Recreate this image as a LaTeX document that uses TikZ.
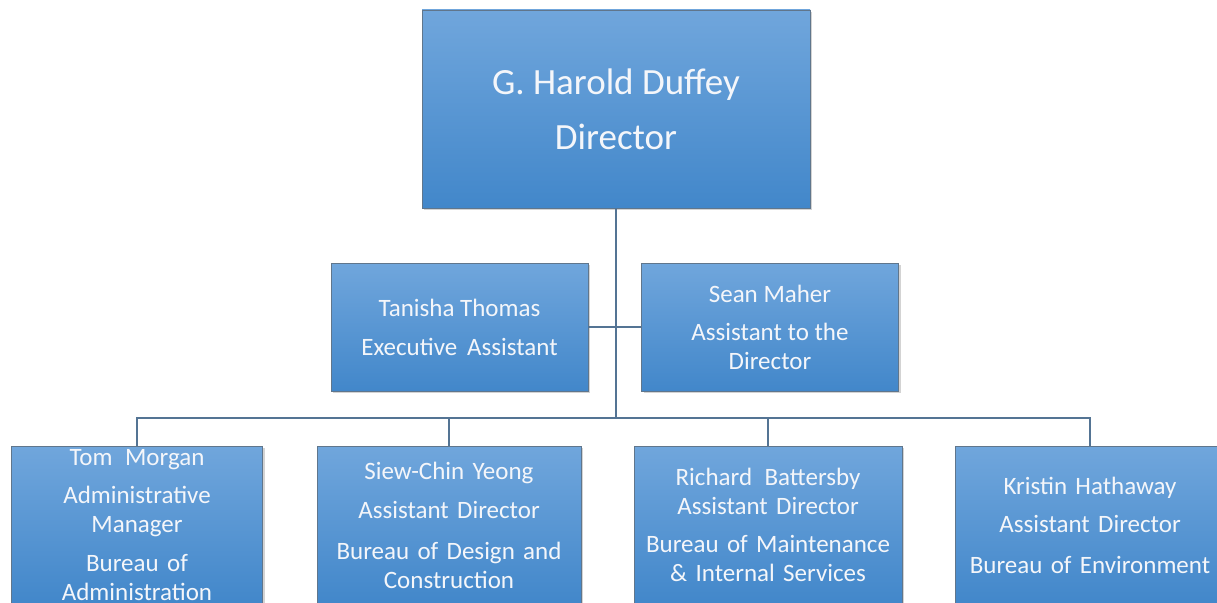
\documentclass[tikz,border=0pt]{standalone}
\usepackage{fontspec}
\setmainfont{Carlito}
\usetikzlibrary{shadows}
\definecolor{boxtop}{RGB}{112,166,220}
\definecolor{boxbot}{RGB}{66,135,202}
\definecolor{boxline}{RGB}{96,118,140}
\definecolor{linkcol}{RGB}{84,116,148}
\definecolor{txtcol}{RGB}{244,246,250}
\begin{document}
\begin{tikzpicture}
[   x=1pt, y=-1pt,
    card/.style={draw=boxline, line width=0.6pt, top color=boxtop, bottom color=boxbot,
        text=txtcol, align=center, inner sep=0pt,
        drop shadow={opacity=0.35, shadow xshift=2pt, shadow yshift=-2pt}},
    bigcard/.style={card, minimum width=388pt, minimum height=198pt,
        font=\fontsize{37}{55}\selectfont},
    smallcard/.style={card, minimum height=128pt, minimum width=257pt,
        font=\fontsize{25}{29}\selectfont},
    lowcard/.style={card, minimum height=158pt, text width=#1, minimum width=#1,
        font=\fontsize{25}{29}\selectfont},
    link/.style={draw=linkcol, line width=2pt},
]
\useasboundingbox (0,0) rectangle (1217,602);
\clip (0,0) rectangle (1217,602);

\node[bigcard] (director) at (616,109) {G. Harold Duffey\\Director};
\node[smallcard] (tanisha) at (459.5,327) {Tanisha Thomas\\[10pt]Executive\,\ Assistant};
\node[smallcard] (sean) at (770,327) {Sean Maher\\[9pt]Assistant to the\\Director};

\node[lowcard=251pt] (morgan) at (137,525) {Tom\,\ Morgan\\[9pt]Administrative\\Manager\\[10pt]Bureau of\\Administration};
\node[lowcard=264pt] (yeong) at (449,525) {Siew-Chin Yeong\\[10pt]Assistant Director\\[12pt]Bureau of Design and\\Construction};
\node[lowcard=268pt] (battersby) at (768,525) {Richard\,\ Battersby\\Assistant Director\\[9pt]Bureau of Maintenance\\\&~Internal Services};
\node[lowcard=270pt] (hathaway) at (1090,525) {Kristin Hathaway\\[9pt]Assistant Director\\[12pt]Bureau of Environment};

\coordinate (bus) at (616,418);

\draw[link] (tanisha.east) -- (sean.west);
\draw[link] (director.south) -- (bus);
\foreach \n in {morgan,yeong,battersby,hathaway}
    \draw[link] (bus) -| (\n.north);

\end{tikzpicture}
\end{document}
